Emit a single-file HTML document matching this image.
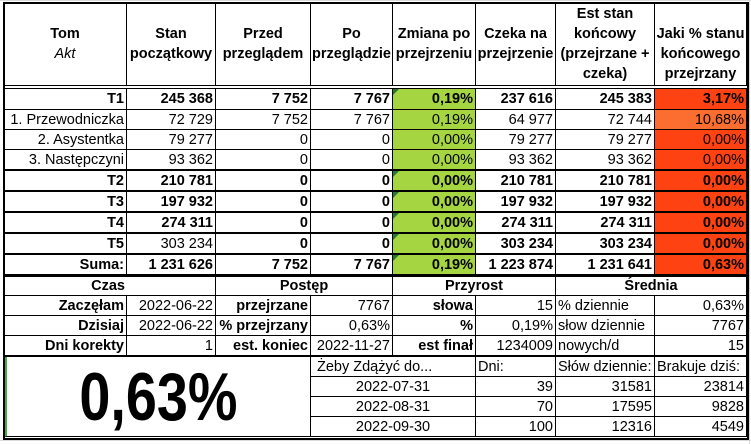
<!DOCTYPE html>
<html><head><meta charset="utf-8"><style>
body{margin:0;width:751px;height:444px;background:#fff;position:relative;overflow:hidden;font-family:"Liberation Sans",sans-serif;font-size:14.5px;color:#000}
.g{position:absolute;background:#d9d9d9}
.c{position:absolute;box-sizing:border-box;border-right:1px solid #000;border-bottom:1px solid #000;white-space:nowrap;overflow:hidden;padding:0 2px;display:flex;align-items:center;justify-content:flex-end}
.l{justify-content:flex-start}.m{justify-content:center;text-align:center}
.b{font-weight:bold}
.gr{background:#a6d542}.rd{background:#ff4212}.or{background:#fb6e30}
.tri:before{content:"";position:absolute;left:0;top:0;border-top:6px solid #217a2e;border-right:6px solid transparent}
.h{flex-direction:column;justify-content:center;align-items:center;text-align:center;line-height:20px;font-weight:bold}
</style></head><body>
<div class="g" style="left:0;top:0;width:751px;height:1px"></div>
<div class="g" style="left:0;top:440px;width:751px;height:1px"></div>
<div class="g" style="left:749px;top:0;width:1px;height:444px"></div>

<!-- header -->
<div class="c h" style="left:4px;top:3px;width:123px;height:83px">Tom<span style="font-weight:normal;font-style:italic">Akt</span></div>
<div class="c h" style="left:127px;top:3px;width:89px;height:83px">Stan<br>początkowy</div>
<div class="c h" style="left:216px;top:3px;width:95px;height:83px">Przed<br>przeglądem</div>
<div class="c h" style="left:311px;top:3px;width:82px;height:83px">Po<br>przeglądzie</div>
<div class="c h" style="left:393px;top:3px;width:83px;height:83px">Zmiana po<br>przejrzeniu</div>
<div class="c h" style="left:476px;top:3px;width:80px;height:83px">Czeka na<br>przejrzenie</div>
<div class="c h" style="left:556px;top:3px;width:99px;height:83px">Est stan<br>końcowy<br>(przejrzane +<br>czeka)</div>
<div class="c h" style="left:655px;top:3px;width:92px;height:83px;padding-top:20px">Jaki % stanu<br>końcowego<br>przejrzany</div>
<div style="position:absolute;left:4px;top:85px;width:743px;height:2px;border-bottom:1px solid #000;border-top:1px solid #000"></div>

<!-- data rows -->
<div class="c b" style="left:4px;top:89px;width:123px;height:21px">T1</div>
<div class="c b" style="left:127px;top:89px;width:89px;height:21px">245 368</div>
<div class="c b" style="left:216px;top:89px;width:95px;height:21px">7 752</div>
<div class="c b" style="left:311px;top:89px;width:82px;height:21px">7 767</div>
<div class="c b gr tri" style="left:393px;top:89px;width:83px;height:21px">0,19%</div>
<div class="c b" style="left:476px;top:89px;width:80px;height:21px">237 616</div>
<div class="c b" style="left:556px;top:89px;width:99px;height:21px">245 383</div>
<div class="c b rd" style="left:655px;top:89px;width:92px;height:21px">3,17%</div>

<div class="c" style="left:4px;top:110px;width:123px;height:20px">1. Przewodniczka</div>
<div class="c" style="left:127px;top:110px;width:89px;height:20px">72 729</div>
<div class="c" style="left:216px;top:110px;width:95px;height:20px">7 752</div>
<div class="c" style="left:311px;top:110px;width:82px;height:20px">7 767</div>
<div class="c gr" style="left:393px;top:110px;width:83px;height:20px">0,19%</div>
<div class="c" style="left:476px;top:110px;width:80px;height:20px">64 977</div>
<div class="c" style="left:556px;top:110px;width:99px;height:20px">72 744</div>
<div class="c or" style="left:655px;top:110px;width:92px;height:20px">10,68%</div>

<div class="c" style="left:4px;top:130px;width:123px;height:20px">2. Asystentka</div>
<div class="c" style="left:127px;top:130px;width:89px;height:20px">79 277</div>
<div class="c" style="left:216px;top:130px;width:95px;height:20px">0</div>
<div class="c" style="left:311px;top:130px;width:82px;height:20px">0</div>
<div class="c gr" style="left:393px;top:130px;width:83px;height:20px">0,00%</div>
<div class="c" style="left:476px;top:130px;width:80px;height:20px">79 277</div>
<div class="c" style="left:556px;top:130px;width:99px;height:20px">79 277</div>
<div class="c rd" style="left:655px;top:130px;width:92px;height:20px">0,00%</div>

<div class="c" style="left:4px;top:150px;width:123px;height:20px">3. Następczyni</div>
<div class="c" style="left:127px;top:150px;width:89px;height:20px">93 362</div>
<div class="c" style="left:216px;top:150px;width:95px;height:20px">0</div>
<div class="c" style="left:311px;top:150px;width:82px;height:20px">0</div>
<div class="c gr" style="left:393px;top:150px;width:83px;height:20px">0,00%</div>
<div class="c" style="left:476px;top:150px;width:80px;height:20px">93 362</div>
<div class="c" style="left:556px;top:150px;width:99px;height:20px">93 362</div>
<div class="c rd" style="left:655px;top:150px;width:92px;height:20px">0,00%</div>

<div style="position:absolute;left:4px;top:169px;width:743px;height:2px;background:#000"></div>
<div class="c b" style="left:4px;top:171px;width:123px;height:21px;border-bottom-width:2px">T2</div>
<div class="c b" style="left:127px;top:171px;width:89px;height:21px;border-bottom-width:2px">210 781</div>
<div class="c b" style="left:216px;top:171px;width:95px;height:21px;border-bottom-width:2px">0</div>
<div class="c b" style="left:311px;top:171px;width:82px;height:21px;border-bottom-width:2px">0</div>
<div class="c b gr tri" style="left:393px;top:171px;width:83px;height:21px;border-bottom-width:2px">0,00%</div>
<div class="c b" style="left:476px;top:171px;width:80px;height:21px;border-bottom-width:2px">210 781</div>
<div class="c b" style="left:556px;top:171px;width:99px;height:21px;border-bottom-width:2px">210 781</div>
<div class="c b rd" style="left:655px;top:171px;width:92px;height:21px;border-bottom-width:2px">0,00%</div>

<div class="c b" style="left:4px;top:192px;width:123px;height:21px;border-bottom-width:2px">T3</div>
<div class="c b" style="left:127px;top:192px;width:89px;height:21px;border-bottom-width:2px">197 932</div>
<div class="c b" style="left:216px;top:192px;width:95px;height:21px;border-bottom-width:2px">0</div>
<div class="c b" style="left:311px;top:192px;width:82px;height:21px;border-bottom-width:2px">0</div>
<div class="c b gr tri" style="left:393px;top:192px;width:83px;height:21px;border-bottom-width:2px">0,00%</div>
<div class="c b" style="left:476px;top:192px;width:80px;height:21px;border-bottom-width:2px">197 932</div>
<div class="c b" style="left:556px;top:192px;width:99px;height:21px;border-bottom-width:2px">197 932</div>
<div class="c b rd" style="left:655px;top:192px;width:92px;height:21px;border-bottom-width:2px">0,00%</div>

<div class="c b" style="left:4px;top:213px;width:123px;height:21px;border-bottom-width:2px">T4</div>
<div class="c b" style="left:127px;top:213px;width:89px;height:21px;border-bottom-width:2px">274 311</div>
<div class="c b" style="left:216px;top:213px;width:95px;height:21px;border-bottom-width:2px">0</div>
<div class="c b" style="left:311px;top:213px;width:82px;height:21px;border-bottom-width:2px">0</div>
<div class="c b gr tri" style="left:393px;top:213px;width:83px;height:21px;border-bottom-width:2px">0,00%</div>
<div class="c b" style="left:476px;top:213px;width:80px;height:21px;border-bottom-width:2px">274 311</div>
<div class="c b" style="left:556px;top:213px;width:99px;height:21px;border-bottom-width:2px">274 311</div>
<div class="c b rd" style="left:655px;top:213px;width:92px;height:21px;border-bottom-width:2px">0,00%</div>

<div class="c b" style="left:4px;top:234px;width:123px;height:21px;border-bottom-width:2px">T5</div>
<div class="c" style="left:127px;top:234px;width:89px;height:21px;border-bottom-width:2px">303 234</div>
<div class="c b" style="left:216px;top:234px;width:95px;height:21px;border-bottom-width:2px">0</div>
<div class="c b" style="left:311px;top:234px;width:82px;height:21px;border-bottom-width:2px">0</div>
<div class="c b gr tri" style="left:393px;top:234px;width:83px;height:21px;border-bottom-width:2px">0,00%</div>
<div class="c b" style="left:476px;top:234px;width:80px;height:21px;border-bottom-width:2px">303 234</div>
<div class="c b" style="left:556px;top:234px;width:99px;height:21px;border-bottom-width:2px">303 234</div>
<div class="c b rd" style="left:655px;top:234px;width:92px;height:21px;border-bottom-width:2px">0,00%</div>

<div class="c b" style="left:4px;top:255px;width:123px;height:21px;border-bottom-width:2px">Suma:</div>
<div class="c b" style="left:127px;top:255px;width:89px;height:21px;border-bottom-width:2px">1 231 626</div>
<div class="c b" style="left:216px;top:255px;width:95px;height:21px;border-bottom-width:2px">7 752</div>
<div class="c b" style="left:311px;top:255px;width:82px;height:21px;border-bottom-width:2px">7 767</div>
<div class="c b gr tri" style="left:393px;top:255px;width:83px;height:21px;border-bottom-width:2px">0,19%</div>
<div class="c b" style="left:476px;top:255px;width:80px;height:21px;border-bottom-width:2px">1 223 874</div>
<div class="c b" style="left:556px;top:255px;width:99px;height:21px;border-bottom-width:2px">1 231 641</div>
<div class="c b rd" style="left:655px;top:255px;width:92px;height:21px;border-bottom-width:2px">0,63%</div>

<!-- lower section -->
<div class="c b" style="left:4px;top:276px;width:123px;height:20px;border-right:none">Czas</div>
<div class="c" style="left:127px;top:276px;width:89px;height:20px"></div>
<div class="c b m" style="left:216px;top:276px;width:177px;height:20px">Postęp</div>
<div class="c b m" style="left:393px;top:276px;width:163px;height:20px">Przyrost</div>
<div class="c b m" style="left:556px;top:276px;width:191px;height:20px">Średnia</div>

<div class="c b" style="left:4px;top:296px;width:123px;height:20px">Zaczęłam</div>
<div class="c" style="left:127px;top:296px;width:89px;height:20px">2022-06-22</div>
<div class="c b" style="left:216px;top:296px;width:95px;height:20px">przejrzane</div>
<div class="c" style="left:311px;top:296px;width:82px;height:20px">7767</div>
<div class="c b" style="left:393px;top:296px;width:83px;height:20px">słowa</div>
<div class="c" style="left:476px;top:296px;width:80px;height:20px">15</div>
<div class="c l" style="left:556px;top:296px;width:99px;height:20px">% dziennie</div>
<div class="c" style="left:655px;top:296px;width:92px;height:20px">0,63%</div>

<div class="c b" style="left:4px;top:316px;width:123px;height:20px">Dzisiaj</div>
<div class="c" style="left:127px;top:316px;width:89px;height:20px">2022-06-22</div>
<div class="c b" style="left:216px;top:316px;width:95px;height:20px">% przejrzany</div>
<div class="c" style="left:311px;top:316px;width:82px;height:20px">0,63%</div>
<div class="c b" style="left:393px;top:316px;width:83px;height:20px">%</div>
<div class="c" style="left:476px;top:316px;width:80px;height:20px">0,19%</div>
<div class="c l" style="left:556px;top:316px;width:99px;height:20px">słow dziennie</div>
<div class="c" style="left:655px;top:316px;width:92px;height:20px">7767</div>

<div class="c b" style="left:4px;top:336px;width:123px;height:21px;border-bottom-width:2px">Dni korekty</div>
<div class="c" style="left:127px;top:336px;width:89px;height:21px;border-bottom-width:2px">1</div>
<div class="c b" style="left:216px;top:336px;width:95px;height:21px;border-bottom-width:2px">est. koniec</div>
<div class="c" style="left:311px;top:336px;width:82px;height:21px;border-bottom-width:2px">2022-11-27</div>
<div class="c b" style="left:393px;top:336px;width:83px;height:21px;border-bottom-width:2px">est finał</div>
<div class="c" style="left:476px;top:336px;width:80px;height:21px;border-bottom-width:2px">1234009</div>
<div class="c l" style="left:556px;top:336px;width:99px;height:21px;border-bottom-width:2px">nowych/d</div>
<div class="c" style="left:655px;top:336px;width:92px;height:21px;border-bottom-width:2px">15</div>

<div class="c m b" style="left:4px;top:357px;width:307px;height:80px;border-left:3px solid #3fae3f;font-size:68px;"><span style="display:inline-block;transform:scaleX(0.82)">0,63%</span></div>

<div class="c l" style="left:311px;top:357px;width:165px;height:20px;padding-left:6px">Żeby Zdążyć do...</div>
<div class="c l" style="left:476px;top:357px;width:80px;height:20px">Dni:</div>
<div class="c l" style="left:556px;top:357px;width:99px;height:20px">Słów dziennie:</div>
<div class="c l" style="left:655px;top:357px;width:92px;height:20px">Brakuje dziś:</div>

<div class="c" style="left:311px;top:377px;width:165px;height:20px;justify-content:center">2022-07-31</div>
<div class="c" style="left:476px;top:377px;width:80px;height:20px">39</div>
<div class="c" style="left:556px;top:377px;width:99px;height:20px">31581</div>
<div class="c" style="left:655px;top:377px;width:92px;height:20px">23814</div>

<div class="c" style="left:311px;top:397px;width:165px;height:20px;justify-content:center">2022-08-31</div>
<div class="c" style="left:476px;top:397px;width:80px;height:20px">70</div>
<div class="c" style="left:556px;top:397px;width:99px;height:20px">17595</div>
<div class="c" style="left:655px;top:397px;width:92px;height:20px">9828</div>

<div class="c" style="left:311px;top:417px;width:165px;height:20px;justify-content:center">2022-09-30</div>
<div class="c" style="left:476px;top:417px;width:80px;height:20px">100</div>
<div class="c" style="left:556px;top:417px;width:99px;height:20px">12316</div>
<div class="c" style="left:655px;top:417px;width:92px;height:20px">4549</div>

<!-- outer frame -->
<div style="position:absolute;left:3px;top:2px;width:742px;height:434px;border:2px solid #000"></div>
<div style="position:absolute;left:4px;top:275px;width:743px;height:2px;background:#000"></div>
</body></html>
